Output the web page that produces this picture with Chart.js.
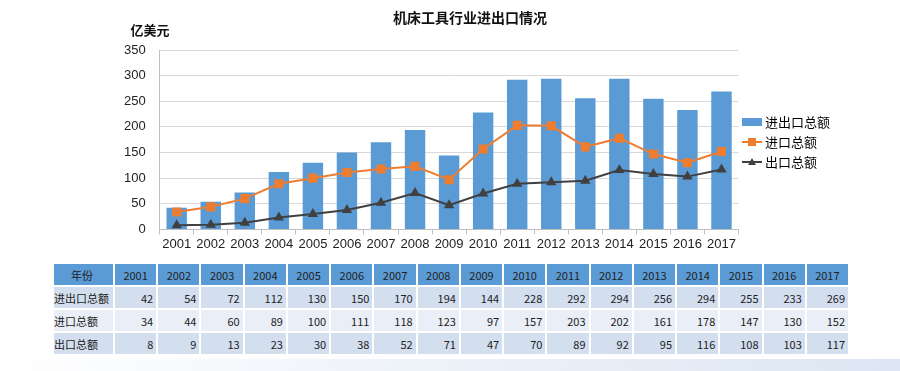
<!DOCTYPE html>
<html>
<head>
<meta charset="utf-8">
<script src="https://cdn.jsdelivr.net/npm/chart.js@4.4.0/dist/chart.umd.min.js"></script>
<style>
body { margin: 0; background: #fff; width: 900px; height: 371px; overflow: hidden; position: relative; font-family: "Liberation Sans", Arial, sans-serif; }
#wrap { position: absolute; left: 0; top: 0; width: 900px; height: 254px; }
#tbl { position: absolute; left: 52px; top: 262px; width: 798px; border-collapse: collapse; font-family: "Noto Sans CJK SC", sans-serif; font-size: 11px; color: #222; table-layout: fixed; }
#tbl td { border: 2px solid #fff; height: 21px; padding: 0 3px; text-align: right; }
#tbl tr.h td { background: #5b9bd5; text-align: center; }
#tbl tr.r1 td, #tbl tr.r3 td { background: #d3deef; }
#tbl tr.r2 td { background: #e9eef7; }
#tbl td.lab { text-align: left; width: 56px; padding-left: 0; }
#tbl tr.h td.lab { text-align: center; }
#band { position: absolute; left: 0; top: 359px; width: 900px; height: 12px; background: linear-gradient(to right, #ffffff 0%, #f0f4fa 40%, #dde6f3 100%); }
</style>
</head>
<body>
<div id="wrap"><canvas id="canvas"></canvas></div>
<table id="tbl"></table>
<div id="band"></div>
<script>
let years = ['2001', '2002', '2003', '2004', '2005', '2006', '2007', '2008', '2009', '2010', '2011', '2012', '2013', '2014', '2015', '2016', '2017'];
let totalTrade = [42, 54, 72, 112, 130, 150, 170, 194, 144, 228, 292, 294, 256, 294, 255, 233, 269];
let imports = [34, 44, 60, 89, 100, 111, 118, 123, 97, 157, 203, 202, 161, 178, 147, 130, 152];
let exports = [8, 9, 13, 23, 30, 38, 52, 71, 47, 70, 89, 92, 95, 116, 108, 103, 117];
let seriesNames = ['进出口总额', '进口总额', '出口总额'];

// legend swatch: line with marker in the middle
function lineSwatch(color, shape) {
    let c = document.createElement('canvas');
    c.width = 20; c.height = 10;
    let g = c.getContext('2d');
    g.strokeStyle = color; g.fillStyle = color; g.lineWidth = 2;
    g.beginPath(); g.moveTo(0, 5); g.lineTo(20, 5); g.stroke();
    if (shape === 'rect') {
        g.fillRect(6, 1, 8, 8);
    } else {
        g.beginPath(); g.moveTo(10, 1); g.lineTo(14, 8); g.lineTo(6, 8); g.closePath(); g.fill();
    }
    return c;
}
function barSwatch(color) {
    let c = document.createElement('canvas');
    c.width = 20; c.height = 8;
    let g = c.getContext('2d');
    g.fillStyle = color; g.fillRect(0, 0, 20, 8);
    return c;
}

const textPlugin = {
    id: 'texts',
    afterLayout(chart) {
        // nudge legend up a bit
        chart.legend.top -= 10;
        chart.legend.bottom -= 10;
    },
    afterDraw(chart) {
        let ctx = chart.ctx;
        ctx.save();
        ctx.fillStyle = '#111';
        ctx.textBaseline = 'middle';
        ctx.textAlign = 'center';
        ctx.font = 'bold 14px "Noto Sans CJK SC", sans-serif';
        ctx.fillText('机床工具行业进出口情况', 470, 18);
        ctx.font = 'bold 13px "Noto Sans CJK SC", sans-serif';
        ctx.fillText('亿美元', 150, 30);
        ctx.restore();
    }
};

let chart = new Chart(document.getElementById('canvas'), {
    type: 'bar',
    data: {
        labels: years,
        datasets: [{
            type: 'line',
            label: seriesNames[2],
            data: exports,
            borderColor: '#404040',
            backgroundColor: '#404040',
            borderWidth: 2,
            pointStyle: 'triangle',
            pointRadius: 4,
            tension: 0,
            order: 1
        }, {
            type: 'line',
            label: seriesNames[1],
            data: imports,
            borderColor: '#ed7d31',
            backgroundColor: '#ed7d31',
            borderWidth: 2,
            pointStyle: 'rect',
            pointRadius: 5,
            tension: 0,
            order: 2
        }, {
            label: seriesNames[0],
            data: totalTrade,
            backgroundColor: '#5b9bd5',
            barPercentage: 0.6,
            categoryPercentage: 1,
            order: 3
        }]
    },
    options: {
        responsive: true,
        maintainAspectRatio: false,
        animation: false,
        layout: { padding: { top: 50, left: 110, right: 60, bottom: 0 } },
        plugins: {
            title: { display: false },
            tooltip: { enabled: false },
            legend: {
                position: 'right',
                reverse: true,
                labels: {
                    usePointStyle: true,
                    color: '#222',
                    font: { size: 13, family: '"Noto Sans CJK SC", sans-serif' },
                    padding: 7,
                    generateLabels: function (ch) {
                        let sw = [lineSwatch('#404040', 'tri'), lineSwatch('#ed7d31', 'rect'), barSwatch('#5b9bd5')];
                        return ch.data.datasets.map((ds, i) => ({
                            text: ds.label,
                            pointStyle: sw[i],
                            fillStyle: ds.backgroundColor,
                            strokeStyle: ds.backgroundColor,
                            lineWidth: 0,
                            datasetIndex: i,
                            hidden: false
                        }));
                    }
                }
            }
        },
        scales: {
            x: {
                grid: { display: true, drawOnChartArea: false, offset: true, color: '#bfbfbf', tickLength: 5 },
                border: { color: '#bfbfbf' },
                ticks: { color: '#222', font: { size: 13 }, padding: 2, maxRotation: 0, autoSkip: false }
            },
            y: {
                min: 0,
                max: 350,
                ticks: { stepSize: 50, color: '#222', font: { size: 13 }, padding: 14 },
                grid: { color: '#d9d9d9', drawTicks: false },
                border: { color: '#bfbfbf' }
            }
        }
    },
    plugins: [textPlugin]
});

// table below the chart, built from the same arrays
let tbl = document.getElementById('tbl');
let rows = [['年份'].concat(years), [seriesNames[0]].concat(totalTrade), [seriesNames[1]].concat(imports), [seriesNames[2]].concat(exports)];
let cls = ['h', 'r1', 'r2', 'r3'];
rows.forEach(function (r, i) {
    let tr = document.createElement('tr');
    tr.className = cls[i];
    r.forEach(function (v, j) {
        let td = document.createElement('td');
        if (j === 0) td.className = 'lab';
        td.textContent = v;
        tr.appendChild(td);
    });
    tbl.appendChild(tr);
});
</script>
</body>
</html>
